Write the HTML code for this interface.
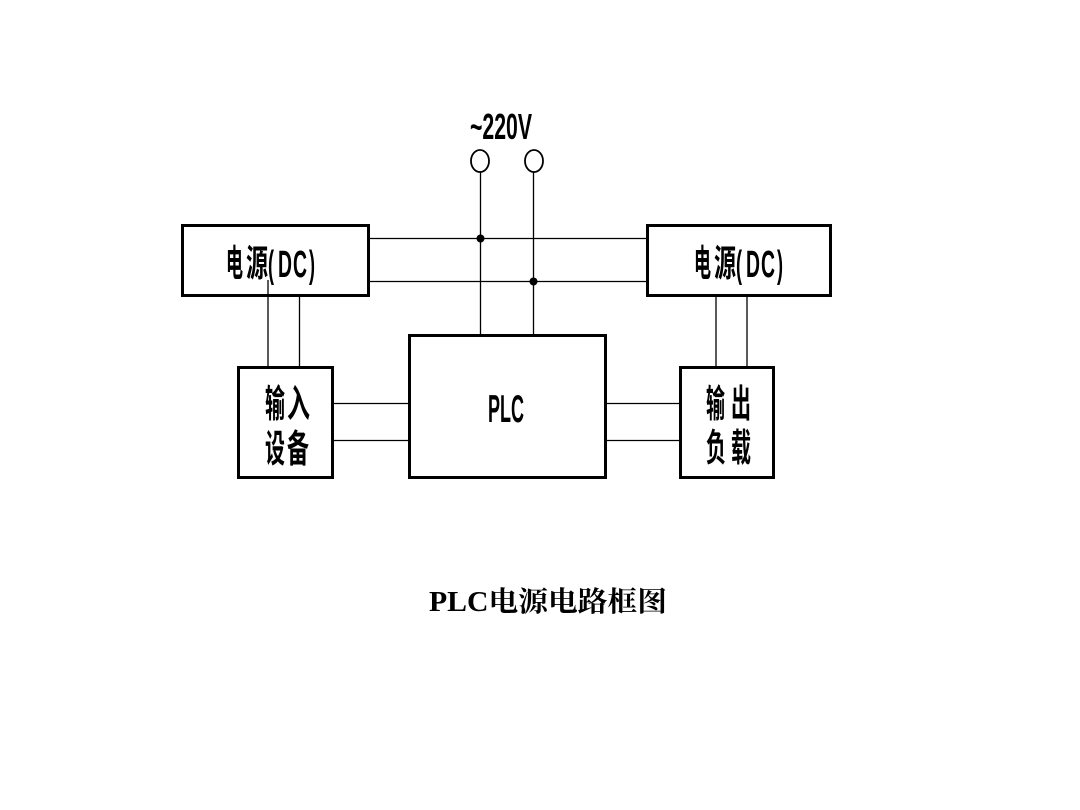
<!DOCTYPE html>
<html><head><meta charset="utf-8"><style>
html,body{margin:0;padding:0;background:#fff;}
svg{display:block;}
</style></head><body>
<svg width="1080" height="810" viewBox="0 0 1080 810" xmlns="http://www.w3.org/2000/svg">
<rect width="1080" height="810" fill="#fff"/>
<g stroke="#000" fill="none">
  <rect x="182.5" y="225.5" width="186" height="70" stroke-width="3"/>
  <rect x="647.5" y="225.5" width="183" height="70" stroke-width="3"/>
  <rect x="238.5" y="367.5" width="94" height="110" stroke-width="3"/>
  <rect x="409.5" y="335.5" width="196" height="142" stroke-width="3"/>
  <rect x="680.5" y="367.5" width="93" height="110" stroke-width="3"/>
  <g stroke-width="1.3">
    <line x1="370" y1="238.5" x2="646" y2="238.5"/>
    <line x1="370" y1="281.5" x2="646" y2="281.5"/>
    <line x1="480.5" y1="172" x2="480.5" y2="334"/>
    <line x1="533.5" y1="172" x2="533.5" y2="334"/>
    <line x1="268" y1="280" x2="268" y2="366"/>
    <line x1="299.5" y1="297" x2="299.5" y2="366"/>
    <line x1="716" y1="297" x2="716" y2="366"/>
    <line x1="747" y1="297" x2="747" y2="366"/>
    <line x1="334" y1="403.5" x2="408" y2="403.5"/>
    <line x1="334" y1="440.5" x2="408" y2="440.5"/>
    <line x1="607" y1="403.5" x2="679" y2="403.5"/>
    <line x1="607" y1="440.5" x2="679" y2="440.5"/>
  </g>
  <ellipse cx="480" cy="161" rx="9" ry="11" stroke-width="1.8" fill="#fff"/>
  <ellipse cx="534" cy="161" rx="9" ry="11" stroke-width="1.8" fill="#fff"/>
</g>
<circle cx="480.5" cy="238.5" r="4" fill="#000"/>
<circle cx="533.5" cy="281.5" r="4" fill="#000"/>

<g fill="#000" font-family="'Liberation Sans','Noto Sans CJK SC',sans-serif" font-weight="bold">
  <text x="470" y="139" font-size="36" textLength="62" lengthAdjust="spacingAndGlyphs">~220V</text>

  <!-- left DC -->
  <text x="226" y="276" font-size="37" textLength="17" lengthAdjust="spacingAndGlyphs">电</text>
  <text x="246" y="276" font-size="37" textLength="22" lengthAdjust="spacingAndGlyphs">源</text>
  <text x="268" y="277" font-size="38" textLength="6" lengthAdjust="spacingAndGlyphs">(</text>
  <text x="278" y="277" font-size="38" textLength="14" lengthAdjust="spacingAndGlyphs">D</text>
  <text x="293" y="277" font-size="38" textLength="14" lengthAdjust="spacingAndGlyphs">C</text>
  <text x="309" y="277" font-size="38" textLength="6" lengthAdjust="spacingAndGlyphs">)</text>

  <!-- right DC -->
  <text x="694" y="276" font-size="37" textLength="17" lengthAdjust="spacingAndGlyphs">电</text>
  <text x="714" y="276" font-size="37" textLength="22" lengthAdjust="spacingAndGlyphs">源</text>
  <text x="736" y="277" font-size="38" textLength="6" lengthAdjust="spacingAndGlyphs">(</text>
  <text x="746" y="277" font-size="38" textLength="14" lengthAdjust="spacingAndGlyphs">D</text>
  <text x="761" y="277" font-size="38" textLength="14" lengthAdjust="spacingAndGlyphs">C</text>
  <text x="777" y="277" font-size="38" textLength="6" lengthAdjust="spacingAndGlyphs">)</text>

  <text x="488" y="422" font-size="39" textLength="36" lengthAdjust="spacingAndGlyphs">PLC</text>

  <!-- input -->
  <text x="265" y="417" font-size="38" textLength="20" lengthAdjust="spacingAndGlyphs">输</text>
  <text x="287" y="417" font-size="38" textLength="23" lengthAdjust="spacingAndGlyphs">入</text>
  <text x="265" y="462" font-size="38" textLength="20" lengthAdjust="spacingAndGlyphs">设</text>
  <text x="287" y="462" font-size="38" textLength="22" lengthAdjust="spacingAndGlyphs">备</text>

  <!-- output -->
  <text x="706" y="417" font-size="38" textLength="19" lengthAdjust="spacingAndGlyphs">输</text>
  <text x="731" y="417" font-size="38" textLength="20" lengthAdjust="spacingAndGlyphs">出</text>
  <text x="706" y="461" font-size="38" textLength="20" lengthAdjust="spacingAndGlyphs">负</text>
  <text x="731" y="461" font-size="38" textLength="20" lengthAdjust="spacingAndGlyphs">载</text>
</g>
<text x="429" y="611" font-family="'Liberation Serif','Noto Serif CJK SC',serif" font-weight="bold" font-size="28" textLength="238" lengthAdjust="spacingAndGlyphs" fill="#000">PLC电源电路框图</text>
</svg>
</body></html>
